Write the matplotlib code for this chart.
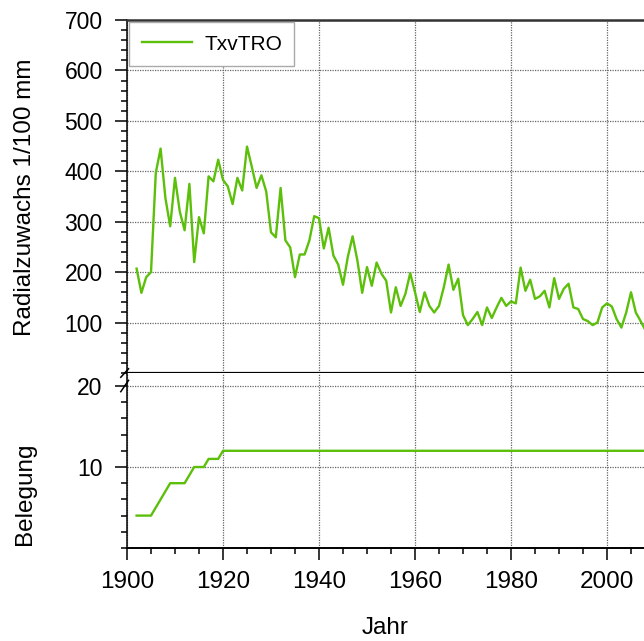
import matplotlib
matplotlib.use("Agg")
import matplotlib.pyplot as plt
from matplotlib.ticker import MultipleLocator

plt.rcParams["font.family"] = ["Liberation Sans", "DejaVu Sans"]

# Jahrringserie TxvTRO
years = list(range(1902, 2009))
growth = [
    207, 159, 190, 200, 397, 445, 347, 291, 387, 320,
    283, 375, 220, 309, 277, 390, 380, 423, 383, 370,
    335, 387, 362, 449, 409, 367, 392, 360, 279, 269,
    367, 263, 249, 190, 235, 235, 263, 311, 307, 247,
    288, 233, 215, 175, 230, 271, 223, 159, 210, 173,
    219, 197, 183, 120, 170, 133, 157, 198, 160, 121,
    160, 133, 120, 133, 170, 215, 165, 187, 115, 95,
    107, 121, 95, 130, 109, 130, 149, 133, 142, 138,
    209, 163, 185, 147, 152, 163, 130, 188, 147, 167,
    177, 130, 127, 107, 103, 95, 100, 130, 138, 132,
    107, 90, 120, 160, 120, 103, 85,
]
# Anzahl Proben je Jahr
coverage = [4, 4, 4, 4, 5, 6, 7, 8, 8, 8, 8, 9, 10, 10, 10, 11, 11, 11] + [12] * 89

series_name = "TxvTRO"
line_color = "#5cbf0a"
x_ticks = [1900, 1920, 1940, 1960, 1980, 2000]

W, H = 644, 641
fig = plt.figure(figsize=(W / 100, H / 100), dpi=100)

left = 127 / W
top_upper = 1 - 20 / H
split = 1 - 373 / H
bottom_lower = 1 - 548 / H

ax1 = fig.add_axes([left, split, 1 - left, top_upper - split])
ax2 = fig.add_axes([left, bottom_lower, 1 - left, split - bottom_lower], sharex=ax1)

grid_kw = dict(color="#666666", linestyle=(0, (1, 1)), linewidth=0.9)

# oberes Panel: Radialzuwachs
ax1.plot(years, growth, color=line_color, linewidth=1.7, label=series_name)
ax1.set_ylim(0, 700)
ax1.set_xlim(1900, 1900 + (W - 127) / 4.8)
ax1.yaxis.set_minor_locator(MultipleLocator(20))
ax1.set_yticks(range(100, 701, 100))
ax1.set_xticks(x_ticks)
ax1.xaxis.set_minor_locator(MultipleLocator(5))
ax1.tick_params(axis="x", which="both", bottom=False, top=False, labelbottom=False)
ax1.tick_params(axis="y", which="major", direction="out", length=8.5, width=1.1, labelsize=16.5, pad=9)
ax1.tick_params(axis="y", which="minor", direction="out", length=4.3, width=1.1)
ax1.grid(True, which="major", **grid_kw)
ax1.spines["right"].set_visible(False)
ax1.spines["top"].set_linewidth(1.8)
ax1.spines["top"].set_color("#333333")
ax1.spines["left"].set_linewidth(1.1)
ax1.spines["bottom"].set_linewidth(1.6)

leg = ax1.legend(loc="upper left", bbox_to_anchor=(0.0, 1.0), fontsize=15,
                 frameon=True, fancybox=False, handlelength=2.4, handletextpad=0.6,
                 borderaxespad=0.1, borderpad=0.6)
leg.get_frame().set_edgecolor("#aaaaaa")
leg.get_frame().set_linewidth(1.0)
leg.get_frame().set_alpha(1)

# unteres Panel: Belegung
ax2.plot(years, coverage, color=line_color, linewidth=1.7)
ax2.set_ylim(0, (548 - 373) / 8.1)
ax2.set_yticks([10, 20])
ax2.yaxis.set_minor_locator(MultipleLocator(2))
ax2.set_xticks(x_ticks)
ax2.xaxis.set_minor_locator(MultipleLocator(5))
ax2.tick_params(axis="y", which="major", direction="out", length=8.5, width=1.1, labelsize=16.5, pad=9)
ax2.tick_params(axis="y", which="minor", direction="out", length=4.3, width=1.1)
ax2.tick_params(axis="x", which="major", direction="out", length=8.5, width=1.1, labelsize=17.5, pad=8)
ax2.tick_params(axis="x", which="minor", direction="out", length=4.3, width=1.1)
ax2.grid(True, which="major", **grid_kw)
ax2.spines["right"].set_visible(False)
ax2.spines["top"].set_visible(False)
ax2.spines["left"].set_linewidth(1.1)
ax2.spines["bottom"].set_linewidth(1.4)

# Achsenbruch-Markierungen
brk = dict(color="black", linewidth=1.1, clip_on=False)
ax1.plot([-0.012, 0.003], [-0.012, 0.012], transform=ax1.transAxes, **brk)
t2 = ax2.get_yaxis_transform()
ax2.plot([-0.012, 0.003], [19.3, 20.7], transform=t2, **brk)

fig.text(25 / W, 1 - 197 / H, "Radialzuwachs 1/100 mm", rotation=90,
         ha="center", va="center", fontsize=17.5)
fig.text(25 / W, 1 - 494 / H, "Belegung", rotation=90,
         ha="center", va="center", fontsize=17.5)
fig.text(385 / W, 1 - 628 / H, "Jahr", ha="center", va="center", fontsize=17.5)

fig.savefig("out.png", dpi=100)
